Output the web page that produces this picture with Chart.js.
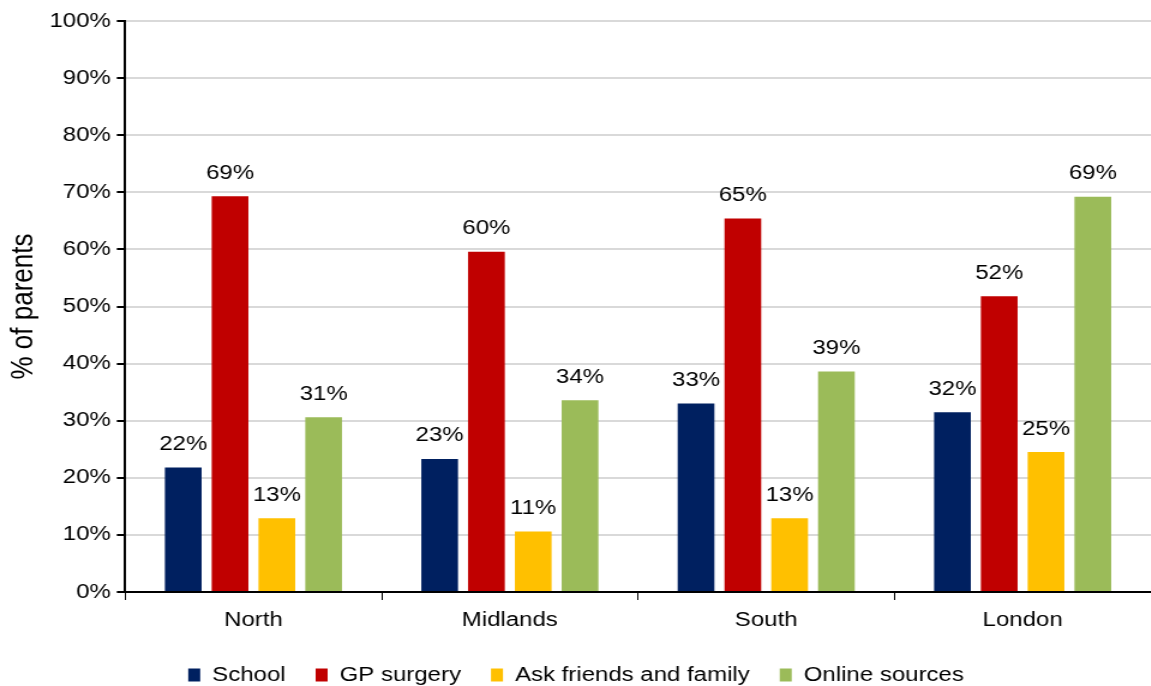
<!DOCTYPE html>
<html>
<head>
<meta charset="utf-8">
<script src="https://cdn.jsdelivr.net/npm/chart.js@4/dist/chart.umd.min.js"></script>
<style>
  html, body { margin: 0; padding: 0; background: #fff; overflow: hidden; }
  /* the original picture is stretched sideways, so draw narrower and widen */
  #wrap { width: 959px; height: 686px; transform: scaleX(1.2); transform-origin: 0 0; }
</style>
</head>
<body>
<div id="wrap"><canvas id="myChart"></canvas></div>
<script>
const regions = ['North', 'Midlands', 'South', 'London']
const school = [21.8, 23.3, 33.0, 31.5]
const gpSurgery = [69.3, 59.6, 65.4, 51.8]
const askFriends = [12.9, 10.6, 12.9, 24.5]
const online = [30.6, 33.6, 38.6, 69.2]

const font = 'Liberation Sans, Arial, sans-serif'

// labels above each bar, rounded like the original
const barLabels = {
  id: 'barLabels',
  afterDatasetsDraw(chart) {
    const ctx = chart.ctx
    ctx.save()
    ctx.font = '20px ' + font
    ctx.fillStyle = '#000'
    ctx.textAlign = 'center'
    ctx.textBaseline = 'bottom'
    chart.data.datasets.forEach((ds, i) => {
      chart.getDatasetMeta(i).data.forEach((bar, j) => {
        ctx.fillText(Math.round(ds.data[j]) + '%', bar.x, bar.y - 13)
      })
    })
    ctx.restore()
  }
}

const ctx = document.getElementById('myChart')
new Chart(ctx, {
  type: 'bar',
  data: {
    labels: regions,
    datasets: [
      { label: 'School', data: school, backgroundColor: '#002060' },
      { label: 'GP surgery', data: gpSurgery, backgroundColor: '#C00000' },
      { label: 'Ask friends and family', data: askFriends, backgroundColor: '#FFC000' },
      { label: 'Online sources', data: online, backgroundColor: '#9BBB59' }
    ]
  },
  options: {
    responsive: true,
    maintainAspectRatio: false,
    animation: false,
    categoryPercentage: 0.73,
    barPercentage: 0.785,
    layout: { padding: { top: 21, right: 0, left: 1, bottom: -9 } },
    plugins: {
      legend: {
        position: 'bottom',
        labels: {
          font: { family: font, size: 20 },
          color: '#000',
          boxWidth: 10,
          boxHeight: 13,
          padding: 25
        }
      },
      tooltip: { enabled: false }
    },
    scales: {
      x: {
        grid: {
          display: true,
          drawOnChartArea: false,
          drawTicks: true,
          tickLength: 8,
          tickColor: '#000',
          offset: true
        },
        border: { color: '#000', width: 2 },
        ticks: { font: { family: font, size: 20 }, color: '#000', padding: 8 }
      },
      y: {
        min: 0,
        max: 100,
        ticks: {
          stepSize: 10,
          font: { family: font, size: 20 },
          color: '#000',
          padding: 5,
          callback: (v) => v + '%'
        },
        grid: { color: '#d9d9d9', lineWidth: 2, tickColor: '#000', tickLength: 7 },
        border: { color: '#000', width: 2 },
        title: {
          display: true,
          text: '% of parents',
          font: { family: font, size: 26 },
          color: '#000',
          padding: { top: 3, bottom: 1 }
        }
      }
    }
  },
  plugins: [barLabels]
})
</script>
</body>
</html>
